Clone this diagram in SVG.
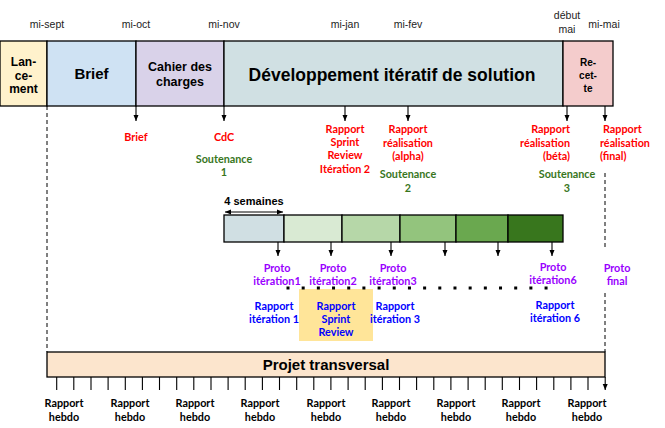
<svg xmlns="http://www.w3.org/2000/svg" width="665" height="428" viewBox="0 0 665 428">
<defs>
<marker id="ah" viewBox="0 0 6 6" refX="6" refY="3" markerWidth="6" markerHeight="6" orient="auto" markerUnits="userSpaceOnUse"><path d="M0,0.5 L6,3 L0,5.5 z" fill="#000"/></marker>
<marker id="ahs" viewBox="0 0 6 6" refX="6" refY="3" markerWidth="6" markerHeight="6" orient="auto-start-reverse" markerUnits="userSpaceOnUse"><path d="M0,0.5 L6,3 L0,5.5 z" fill="#000"/></marker>
<style>
.box{stroke:#000;stroke-width:1.3}
.ar{font-family:"Liberation Sans",Arial,sans-serif;font-weight:bold;text-anchor:middle;fill:#000}
.tl{font-family:"Liberation Sans",Arial,sans-serif;font-size:10.5px;text-anchor:middle;fill:#222}
.c{font-family:Lato,"Open Sans",sans-serif;font-weight:bold;font-size:10.8px;text-anchor:middle}
.red{fill:#ff0000}.grn{fill:#38761d}.pur{fill:#9900ff}.blu{fill:#0000ff}.blk{fill:#000}
.arr{stroke:#000;stroke-width:1.1;fill:none;marker-end:url(#ah)}
.dash{stroke:#000;stroke-width:1;stroke-dasharray:4 3;fill:none}
</style>
</defs>

<g id="timeline-labels">
<text class="tl" x="47" y="28">mi-sept</text>
<text class="tl" x="136" y="28">mi-oct</text>
<text class="tl" x="224" y="28">mi-nov</text>
<text class="tl" x="345" y="28">mi-jan</text>
<text class="tl" x="408" y="28">mi-fev</text>
<text class="tl" x="567" y="19">début</text>
<text class="tl" x="567" y="33">mai</text>
<text class="tl" x="604" y="28">mi-mai</text>
</g>

<g id="lancement">
<rect class="box" x="0" y="41" width="47" height="65" fill="#fff2cc"/>
<text class="ar" font-size="12" x="23.5"><tspan x="23.5" y="66">Lan-</tspan><tspan x="23.5" y="80">ce-</tspan><tspan x="23.5" y="93">ment</tspan></text>
</g>
<g id="brief">
<rect class="box" x="47" y="41" width="89" height="65" fill="#cfe2f3"/>
<text class="ar" font-size="15" x="91.5" y="79">Brief</text>
</g>
<g id="cahier">
<rect class="box" x="136" y="41" width="88" height="65" fill="#d9d2e9"/>
<text class="ar" font-size="12.5"><tspan x="180" y="71">Cahier des</tspan><tspan x="180" y="86">charges</tspan></text>
</g>
<g id="developpement">
<rect class="box" x="224" y="41" width="339" height="65" fill="#d0e0e3"/>
<text class="ar" font-size="17.5" x="392" y="81">Développement itératif de solution</text>
</g>
<g id="recette">
<rect class="box" x="563" y="41" width="50" height="65" fill="#f4cccc"/>
<text class="ar" font-size="10"><tspan x="588" y="66">Re-</tspan><tspan x="588" y="79">cet-</tspan><tspan x="588" y="92">te</tspan></text>
</g>

<g id="livrables">
<text class="c red" x="136" y="141">Brief</text>
<text class="c red" x="224" y="141">CdC</text>
<text class="c grn"><tspan x="224" y="163">Soutenance</tspan><tspan x="224" y="176">1</tspan></text>
<text class="c red"><tspan x="345" y="133">Rapport</tspan><tspan x="345" y="146">Sprint</tspan><tspan x="345" y="159">Review</tspan><tspan x="345" y="173">Itération 2</tspan></text>
<text class="c red"><tspan x="408" y="133">Rapport</tspan><tspan x="408" y="147">réalisation</tspan><tspan x="408" y="160">(alpha)</tspan></text>
<text class="c grn"><tspan x="408" y="178">Soutenance</tspan><tspan x="408" y="192">2</tspan></text>
<text class="c red" style="text-anchor:end"><tspan x="570" y="133">Rapport</tspan><tspan x="570" y="147">réalisation</tspan><tspan x="570" y="160">(béta)</tspan></text>
<text class="c grn"><tspan x="567" y="178">Soutenance</tspan><tspan x="567" y="192">3</tspan></text>
<text class="c red" style="text-anchor:start"><tspan x="603" y="133">Rapport</tspan><tspan x="600" y="147">réalisation</tspan><tspan x="600" y="160">(final)</tspan></text>
</g>

<g id="iterations">
<rect class="box" x="224" y="215" width="60" height="27" fill="#d0dfe3"/>
<rect class="box" x="284" y="215" width="58" height="27" fill="#d9ead3"/>
<rect class="box" x="342" y="215" width="58" height="27" fill="#b6d7a8"/>
<rect class="box" x="400" y="215" width="56" height="27" fill="#93c47d"/>
<rect class="box" x="456" y="215" width="52" height="27" fill="#6aa84f"/>
<rect class="box" x="508" y="215" width="55" height="27" fill="#38761d"/>
<text class="ar" font-size="11" x="254" y="205">4 semaines</text>
</g>

<g id="sprint-review">
<rect x="299" y="289" width="74" height="52" fill="#ffe599"/>
<text class="c blu"><tspan x="336" y="310">Rapport</tspan><tspan x="336" y="323">Sprint</tspan><tspan x="336" y="336">Review</tspan></text>
</g>

<g id="protos">
<text class="c pur"><tspan x="277" y="272">Proto</tspan><tspan x="277" y="285">itération1</tspan></text>
<text class="c pur"><tspan x="333" y="272">Proto</tspan><tspan x="333" y="285">itération2</tspan></text>
<text class="c pur"><tspan x="393" y="272">Proto</tspan><tspan x="393" y="285">itération3</tspan></text>
<text class="c pur"><tspan x="553" y="271">Proto</tspan><tspan x="553" y="284">itération6</tspan></text>
<text class="c pur"><tspan x="617" y="272">Proto</tspan><tspan x="617" y="285">final</tspan></text>
<text class="c blu"><tspan x="274" y="310">Rapport</tspan><tspan x="274" y="323">itération 1</tspan></text>
<text class="c blu"><tspan x="395" y="310">Rapport</tspan><tspan x="395" y="323">itération 3</tspan></text>
<text class="c blu"><tspan x="555" y="309">Rapport</tspan><tspan x="555" y="322">itération 6</tspan></text>
</g>

<g id="projet-transversal">
<rect class="box" x="47" y="352" width="558" height="25" fill="#fce5cd"/>
<text class="ar" font-size="15" x="326" y="370">Projet transversal</text>
</g>

<g id="rapports-hebdo" class="c blk">
<text><tspan x="64" y="407">Rapport</tspan><tspan x="64" y="421">hebdo</tspan></text>
<text><tspan x="130" y="407">Rapport</tspan><tspan x="130" y="421">hebdo</tspan></text>
<text><tspan x="195" y="407">Rapport</tspan><tspan x="195" y="421">hebdo</tspan></text>
<text><tspan x="260" y="407">Rapport</tspan><tspan x="260" y="421">hebdo</tspan></text>
<text><tspan x="326" y="407">Rapport</tspan><tspan x="326" y="421">hebdo</tspan></text>
<text><tspan x="391" y="407">Rapport</tspan><tspan x="391" y="421">hebdo</tspan></text>
<text><tspan x="456" y="407">Rapport</tspan><tspan x="456" y="421">hebdo</tspan></text>
<text><tspan x="521" y="407">Rapport</tspan><tspan x="521" y="421">hebdo</tspan></text>
<text><tspan x="587" y="407">Rapport</tspan><tspan x="587" y="421">hebdo</tspan></text>
</g>

<g id="connectors">
<path class="dash" d="M47,106 V352"/>
<path class="dash" d="M605,173 V250 M605,293 V352"/>
<path class="arr" d="M136,106 V121"/>
<path class="arr" d="M224,106 V121"/>
<path class="arr" d="M345,106 V121"/>
<path class="arr" d="M408,106 V121"/>
<path class="arr" d="M567,106 V121"/>
<path class="arr" d="M605,106 V121"/>
<path d="M225,212 H283" stroke="#000" stroke-width="1" marker-start="url(#ahs)" marker-end="url(#ah)"/>
<path class="arr" d="M278,242 V256"/>
<path class="arr" d="M331,242 V256"/>
<path class="arr" d="M391,242 V256"/>
<path class="arr" d="M445,242 V256"/>
<path class="arr" d="M498,242 V256"/>
<path class="arr" d="M552,242 V256"/>
<path d="M286.5,288 H548" stroke="#000" stroke-width="3" stroke-dasharray="3 12.18"/>
<path class="arr" d="M56.7,377 V390 M73.8,377 V390 M91,377 V390 M108.1,377 V390 M125.3,377 V390 M142.4,377 V390 M159.5,377 V390 M176.7,377 V390 M193.8,377 V390 M211,377 V390 M228.1,377 V390 M245.2,377 V390 M262.4,377 V390 M279.5,377 V390 M296.7,377 V390 M313.8,377 V390 M330.9,377 V390 M348.1,377 V390 M365.2,377 V390 M382.4,377 V390 M399.5,377 V390 M416.6,377 V390 M433.8,377 V390 M450.9,377 V390 M468.1,377 V390 M485.2,377 V390 M502.3,377 V390 M519.5,377 V390 M536.6,377 V390 M553.8,377 V390 M570.9,377 V390 M588,377 V390 M605.2,377 V390"/>
</g>
</svg>
